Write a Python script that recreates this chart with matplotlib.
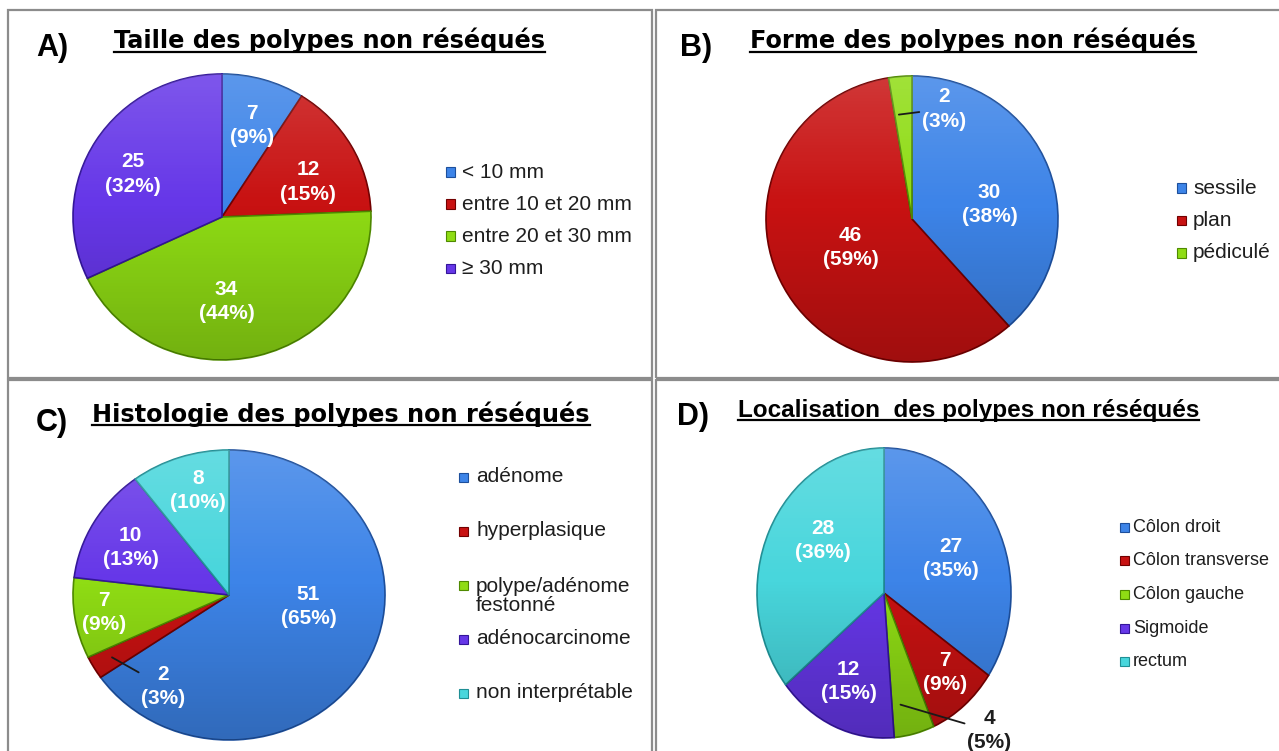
import numpy as np
import matplotlib.pyplot as plt
from matplotlib.patches import Rectangle, Circle
from matplotlib.lines import Line2D

W, H = 1279, 751

# A) taille
taille_labels = ['< 10 mm', 'entre 10 et 20 mm', 'entre 20 et 30 mm', '≥ 30 mm']
taille_values = [7, 12, 34, 25]
# B) forme
forme_labels = ['sessile', 'plan', 'pédiculé']
forme_values = [30, 46, 2]
# C) histologie
histo_labels = ['adénome', 'hyperplasique', 'polype/adénome\nfestonné',
                'adénocarcinome', 'non interprétable']
histo_values = [51, 2, 7, 10, 8]
# D) localisation
loc_labels = ['Côlon droit', 'Côlon transverse', 'Côlon gauche', 'Sigmoide', 'rectum']
loc_values = [27, 7, 4, 12, 28]

BLUE, RED, GREEN, PURPLE, CYAN = '#3d84e8', '#c81212', '#8fdc14', '#6637e8', '#48d6dc'
EDGES = {BLUE: '#1d4f9c', RED: '#720000', GREEN: '#4f8a00',
         PURPLE: '#34169a', CYAN: '#1f8f95'}

fig = plt.figure(figsize=(W / 100, H / 100), dpi=100)
fig.patch.set_facecolor('white')


def fx(x):
    return x / W


def fy(y):
    return 1 - y / H


# panel frames
for x0, y0, x1, y1 in [(8, 10, 652, 378), (656, 10, 1290, 378),
                       (8, 380, 652, 770), (656, 380, 1290, 770)]:
    fig.add_artist(Rectangle((fx(x0), fy(y1)), (x1 - x0) / W, (y1 - y0) / H,
                             transform=fig.transFigure, fill=False,
                             edgecolor='#8c8c8c', lw=1.6))

# soft light/shade overlay for the pies
t = np.linspace(0, 1, 200)[:, None]
shade = np.zeros((200, 1, 4))
shade[:, 0, :3] = np.where(t < 0.45, 1.0, 0.0)
shade[:, 0, 3] = np.where(t < 0.45, 0.16 * (1 - t / 0.45), 0.2 * (t - 0.45) / 0.55)[:, 0]


def pie(cx, cy, rx, ry, values, colors, label_pos, leaders={}):
    ax = fig.add_axes([fx(cx - rx), fy(cy + ry), 2 * rx / W, 2 * ry / H])
    wedges, _ = ax.pie(values, colors=colors, startangle=90, counterclock=False,
                       wedgeprops=dict(linewidth=1.2))
    for w, c in zip(wedges, colors):
        w.set_edgecolor(EDGES[c])
    ax.set_aspect('auto')
    ax.set_xlim(-1, 1)
    ax.set_ylim(-1, 1)
    im = ax.imshow(shade, extent=(-1, 1, -1, 1), aspect='auto', zorder=4)
    im.set_clip_path(Circle((0, 0), 1, transform=ax.transData))
    total = sum(values)
    for i, (v, pos) in enumerate(zip(values, label_pos)):
        txt = f'{v}\n({round(100 * v / total)}%)'
        kw = dict(ha='center', va='center', fontsize=15, fontweight='bold',
                  family='Liberation Sans', linespacing=1.35, zorder=6)
        if i in leaders:
            start, col = leaders[i]
            ax.annotate(txt, xy=start, xytext=pos, color=col, annotation_clip=False,
                        arrowprops=dict(arrowstyle='-', color='#1a1a1a', lw=1.3,
                                        shrinkA=0, shrinkB=0), **kw)
        else:
            ax.text(pos[0], pos[1], txt, color='white', **kw)
    return ax


def legend(x_box, x_text, y0, dy, labels, colors, size, line_h=22):
    for i, (lab, c) in enumerate(zip(labels, colors)):
        y = y0 + i * dy
        fig.add_artist(Rectangle((fx(x_box), fy(y + 4.5)), 9 / W, 9 / H,
                                 transform=fig.transFigure, facecolor=c,
                                 edgecolor=EDGES[c], lw=0.8))
        n = lab.count('\n')
        fig.text(fx(x_text), fy(y + n * line_h / 2), lab, ha='left', va='center',
                 fontsize=size, family='Liberation Sans', color='#1e1e1e',
                 linespacing=0.95)


titles = []


def heading(letter, lx, ly, title, tx, ty, uy, family, size):
    fig.text(fx(lx), fy(ly), letter, ha='left', va='center', fontsize=22,
             fontweight='bold', family='Liberation Sans', color='black')
    t = fig.text(fx(tx), fy(ty), title, ha='left', va='baseline', fontsize=size,
                 fontweight='bold', family=family, color='black')
    titles.append((t, uy))


# A
heading('A)', 36, 48, 'Taille des polypes non réséqués', 114, 48, 52, 'DejaVu Sans', 17.3)
pie(222, 217, 149, 143, taille_values, [BLUE, RED, GREEN, PURPLE],
    [(0.2, 0.64), (0.58, 0.245), (0.03, -0.59), (-0.6, 0.3)])
legend(446, 462, 172, 32, taille_labels, [BLUE, RED, GREEN, PURPLE], 15)

# B
heading('B)', 680, 48, 'Forme des polypes non réséqués', 750, 48, 52, 'DejaVu Sans', 17.3)
pie(912, 219, 146, 143, forme_values, [BLUE, RED, GREEN],
    [(0.53, 0.1), (-0.42, -0.2), (0.22, 0.77)],
    leaders={2: ((-0.09, 0.73), 'white')})
legend(1177, 1193, 188, 32.5, forme_labels, [BLUE, RED, GREEN], 15)

# C
heading('C)', 36, 423, 'Histologie des polypes non réséqués', 92, 422, 425, 'DejaVu Sans', 17.3)
pie(229, 595, 156, 145, histo_values, [BLUE, RED, GREEN, PURPLE, CYAN],
    [(0.51, -0.08), (-0.42, -0.63), (-0.8, -0.12), (-0.63, 0.33), (-0.2, 0.72)],
    leaders={1: ((-0.75, -0.43), 'white')})
legend(459, 476, 477, 54, histo_labels, [BLUE, RED, GREEN, PURPLE, CYAN], 15)

# D
heading('D)', 677, 417, 'Localisation  des polypes non réséqués', 738, 417, 420,
        'Liberation Sans', 17.5)
pie(884, 593, 127, 145, loc_values, [BLUE, RED, GREEN, PURPLE, CYAN],
    [(0.53, 0.24), (0.48, -0.55), (0.83, -0.95), (-0.28, -0.61), (-0.48, 0.36)],
    leaders={2: ((0.13, -0.77), '#1e1e1e')})
legend(1120, 1133, 527, 33.7, loc_labels, [BLUE, RED, GREEN, PURPLE, CYAN], 13)

# underline the titles
fig.canvas.draw()
r = fig.canvas.get_renderer()
inv = fig.transFigure.inverted()
for t, uy in titles:
    bb = t.get_window_extent(r)
    x0, _ = inv.transform((bb.x0, 0))
    x1, _ = inv.transform((bb.x1, 0))
    fig.add_artist(Line2D([x0, x1], [fy(uy), fy(uy)], transform=fig.transFigure,
                          color='black', lw=1.6))

fig.savefig('out.png', dpi=100)
